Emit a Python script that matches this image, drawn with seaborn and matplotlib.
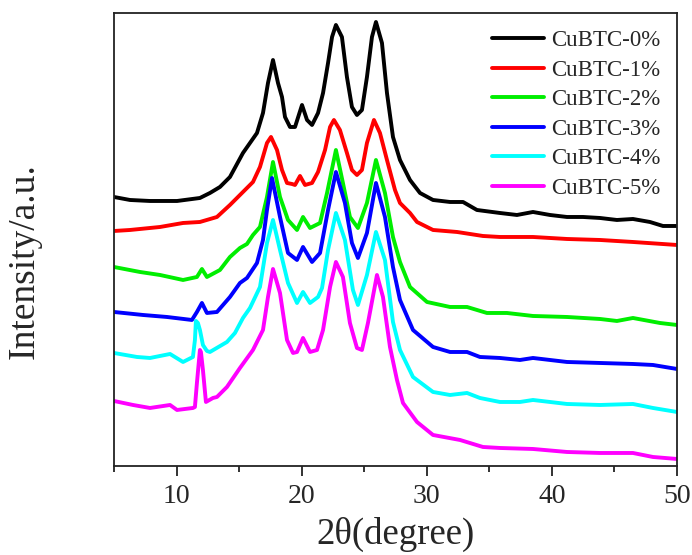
import numpy as np
import pandas as pd
import matplotlib
matplotlib.use("Agg")
import matplotlib.pyplot as plt
from matplotlib.ticker import MultipleLocator, NullLocator
import seaborn as sns

# XRD patterns, 2θ in degrees and intensity in arbitrary units (stacked offsets included)
two_theta_0 = [5.0, 6.28, 7.88, 10.04, 11.87, 12.67, 13.47, 14.27, 15.31, 15.87, 16.43, 16.91,
               17.31, 17.71, 18.11, 18.43, 18.67, 19.07, 19.47, 20.03, 20.43, 20.83, 21.31, 21.71,
               22.11, 22.43, 22.74, 23.22, 23.62, 24.02, 24.42, 24.82, 25.22, 25.62, 25.94, 26.42,
               26.82, 27.30, 27.86, 28.66, 29.46, 30.50, 31.86, 32.90, 34.01, 35.85, 37.21, 38.49,
               39.85, 41.21, 42.49, 43.85, 45.20, 46.48, 47.84, 48.88, 50.0]
intensity_0 = [269, 266, 265, 265, 268, 273, 279, 289, 313, 323, 333, 353, 383, 406, 383, 369,
               349, 339, 339, 361, 346, 341, 353, 373, 403, 429, 441, 429, 389, 359, 351, 356,
               389, 429, 444, 423, 373, 329, 306, 286, 273, 266, 264, 264, 256, 253, 251, 254,
               251, 249, 249, 248, 246, 247, 244, 240, 240]

two_theta_1 = [5.0, 6.28, 8.68, 10.52, 11.87, 13.23, 14.27, 15.07, 16.11, 16.67, 17.23, 17.55,
               18.03, 18.43, 18.83, 19.23, 19.47, 19.87, 20.27, 20.83, 21.31, 21.87, 22.27, 22.58,
               23.06, 23.62, 24.02, 24.42, 24.82, 25.22, 25.78, 26.26, 26.82, 27.46, 27.86, 28.66,
               29.22, 30.50, 32.42, 34.49, 35.85, 38.49, 41.21, 43.85, 46.48, 50.0]
intensity_1 = [235, 236, 239, 243, 244, 249, 261, 271, 284, 299, 323, 329, 316, 296, 283, 282,
               281, 290, 281, 283, 294, 316, 339, 346, 336, 313, 296, 291, 296, 323, 346, 333,
               306, 276, 263, 253, 244, 236, 234, 230, 229, 229, 227, 226, 224, 221]

two_theta_2 = [5.0, 7.08, 8.68, 10.52, 11.63, 12.03, 12.43, 13.47, 14.27, 15.07, 15.63, 16.11,
               16.67, 17.23, 17.71, 18.27, 18.91, 19.63, 20.11, 20.67, 21.47, 22.03, 22.74, 23.30,
               23.86, 24.50, 25.22, 25.94, 26.66, 27.30, 27.86, 28.66, 30.02, 31.86, 33.22, 34.81,
               36.41, 38.49, 41.21, 43.85, 45.20, 46.48, 48.64, 50.0]
intensity_2 = [199, 194, 191, 186, 189, 197, 189, 196, 209, 218, 222, 231, 239, 269, 304, 269,
               246, 236, 249, 238, 243, 273, 316, 283, 249, 238, 263, 306, 273, 229, 204, 179,
               164, 159, 159, 153, 153, 150, 149, 147, 145, 148, 143, 141]

two_theta_3 = [5.0, 7.32, 9.24, 11.23, 11.63, 12.03, 12.43, 13.23, 14.27, 15.07, 15.63, 16.43,
               16.91, 17.23, 17.63, 18.27, 18.91, 19.63, 20.11, 20.83, 21.47, 22.11, 22.74, 23.46,
               24.02, 24.50, 25.22, 25.94, 26.66, 27.30, 27.86, 28.90, 30.50, 31.86, 33.22, 34.25,
               35.85, 37.45, 38.49, 41.21, 43.85, 46.48, 48.08, 50.0]
intensity_3 = [154, 151, 149, 146, 154, 163, 153, 154, 169, 183, 188, 203, 226, 256, 288, 249,
               213, 206, 219, 204, 213, 256, 294, 263, 223, 208, 233, 283, 249, 199, 166, 136,
               119, 114, 114, 109, 108, 106, 108, 104, 103, 102, 101, 97]

two_theta_4 = [5.0, 6.84, 7.88, 9.48, 10.52, 11.31, 11.47, 11.55, 11.71, 11.87, 12.11, 12.43,
               12.67, 14.03, 14.67, 15.31, 15.87, 16.67, 17.23, 17.71, 18.27, 18.91, 19.63, 20.11,
               20.67, 21.31, 21.63, 22.11, 22.74, 23.46, 24.10, 24.50, 25.22, 25.94, 26.66, 27.30,
               27.86, 28.90, 30.50, 31.86, 33.22, 34.25, 35.85, 37.45, 38.49, 41.21, 43.85, 46.48,
               48.08, 50.0]
intensity_4 = [113, 109, 108, 112, 104, 109, 126, 145, 143, 136, 121, 115, 114, 124, 133, 148,
               158, 179, 223, 246, 216, 183, 163, 174, 163, 169, 178, 216, 253, 226, 176, 161,
               191, 234, 206, 144, 116, 89, 74, 71, 73, 68, 64, 64, 66, 62, 61, 62, 58, 54]

two_theta_5 = [5.0, 6.52, 7.88, 9.48, 10.04, 11.31, 11.47, 11.63, 11.87, 11.95, 12.11, 12.35,
               12.91, 13.23, 14.03, 15.07, 16.11, 16.91, 17.31, 17.71, 18.27, 18.83, 19.31, 19.63,
               20.11, 20.67, 21.23, 21.71, 22.27, 22.74, 23.30, 23.86, 24.42, 24.82, 25.30, 26.02,
               26.50, 27.06, 27.62, 28.10, 29.22, 30.50, 32.66, 34.49, 35.85, 38.49, 41.21, 43.85,
               46.48, 48.08, 50.0]
intensity_5 = [65, 61, 58, 61, 56, 58, 59, 83, 116, 114, 96, 64, 68, 69, 79, 98, 116, 136, 169,
               197, 173, 126, 113, 114, 128, 114, 116, 136, 179, 204, 189, 143, 118, 116, 143,
               191, 169, 119, 86, 63, 44, 31, 26, 19, 18, 17, 14, 13, 13, 9, 7]

samples = ["CuBTC-0%", "CuBTC-1%", "CuBTC-2%", "CuBTC-3%", "CuBTC-4%", "CuBTC-5%"]
colors = ["#000000", "#FF0000", "#00EE00", "#0000FF", "#00FFFF", "#FF00FF"]
x_ticks = [10, 20, 30, 40, 50]

series = [(two_theta_0, intensity_0), (two_theta_1, intensity_1), (two_theta_2, intensity_2),
          (two_theta_3, intensity_3), (two_theta_4, intensity_4), (two_theta_5, intensity_5)]
frames = []
for name, (tt, inten) in zip(samples, series):
    frames.append(pd.DataFrame({"two_theta": tt, "intensity": inten, "sample": name}))
df = pd.concat(frames, ignore_index=True)

sns.set_style("white")
plt.rcParams["font.family"] = ["Liberation Serif", "DejaVu Serif"]

fig = plt.figure(figsize=(6.92, 5.55), dpi=100)
ax = fig.add_axes([0.1647, 0.1604, 0.8136, 0.8162])

sns.lineplot(data=df, x="two_theta", y="intensity", hue="sample", hue_order=samples,
             palette=colors, estimator=None, sort=False, linewidth=2.8, ax=ax)
for line in ax.get_lines():
    line.set_solid_joinstyle("round")
    line.set_solid_capstyle("round")

ax.set_xlim(5, 50)
ax.set_ylim(0, 453)
ax.set_xticks(x_ticks)
ax.xaxis.set_minor_locator(MultipleLocator(5))
ax.yaxis.set_major_locator(NullLocator())
ax.tick_params(axis="x", which="major", direction="out", length=7, width=1.3,
               labelsize=20, pad=6, color="#222222", bottom=True)
ax.tick_params(axis="x", which="minor", direction="out", length=4, width=1.3,
               color="#222222", bottom=True)
for sp in ax.spines.values():
    sp.set_visible(True)
    sp.set_color("#222222")
    sp.set_linewidth(1.3)

ax.set_xlabel("2θ(degree)", fontsize=26.5, labelpad=6)
ax.set_ylabel("Intensity/a.u.", fontsize=27)
ax.yaxis.set_label_coords(-0.128, 0.4525)

leg = ax.legend(loc="upper left", bbox_to_anchor=(0.671, 0.962), frameon=False,
                fontsize=16.5, handlelength=2.3, handletextpad=0.3, labelspacing=0.37,
                borderpad=0, borderaxespad=0)
for line in leg.get_lines():
    line.set_linewidth(2.8)

fig.savefig("out.png", dpi=100)
